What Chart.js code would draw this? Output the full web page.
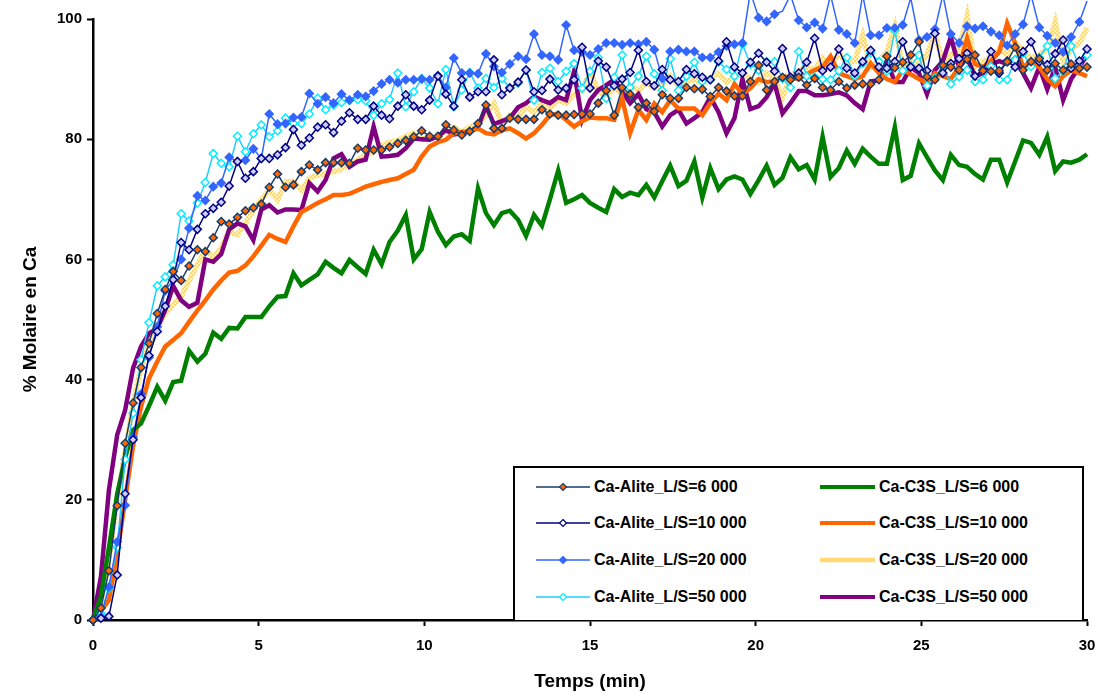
<!DOCTYPE html>
<html>
<head>
<meta charset="utf-8">
<title>% Molaire en Ca</title>
<script src="https://cdn.jsdelivr.net/npm/chart.js@4.4.1/dist/chart.umd.min.js"></script>
<style>
    body { margin: 0; background: #fff; }
    #wrap { position: relative; width: 1099px; height: 693px; }
    #legend {
        position: absolute; left: 513px; top: 466px;
        width: 567px; height: 152px;
        border: 2px solid #000; border-bottom: none;
        background: #fff;
        font: bold 16px "Liberation Sans", Arial, sans-serif;
        color: #000;
    }
    .item { position: absolute; display: flex; align-items: center; height: 20px; white-space: nowrap; }
    .item svg { margin-right: 4px; flex: none; }
</style>
</head>
<body>
<div id="wrap">
    <canvas id="chart" width="1099" height="693"></canvas>
    <div id="legend"></div>
</div>
<script>
// ============================================
// DATA
// ============================================

const temps = [
    0, 0.24, 0.48, 0.73, 0.97, 1.21, 1.45, 1.69, 1.94, 2.18,
    2.42, 2.66, 2.90, 3.15, 3.39, 3.63, 3.87, 4.11, 4.36, 4.60,
    4.84, 5.08, 5.32, 5.57, 5.81, 6.05, 6.29, 6.53, 6.78, 7.02,
    7.26, 7.50, 7.74, 7.99, 8.23, 8.47, 8.71, 8.95, 9.20, 9.44,
    9.68, 9.92, 10.16, 10.41, 10.65, 10.89, 11.13, 11.37, 11.62, 11.86,
    12.10, 12.34, 12.58, 12.83, 13.07, 13.31, 13.55, 13.79, 14.04, 14.28,
    14.52, 14.76, 15.00, 15.25, 15.49, 15.73, 15.97, 16.21, 16.46, 16.70,
    16.94, 17.18, 17.42, 17.67, 17.91, 18.15, 18.39, 18.63, 18.88, 19.12,
    19.36, 19.60, 19.84, 20.09, 20.33, 20.57, 20.81, 21.05, 21.30, 21.54,
    21.78, 22.02, 22.26, 22.51, 22.75, 22.99, 23.23, 23.47, 23.72, 23.96,
    24.20, 24.44, 24.68, 24.93, 25.17, 25.41, 25.65, 25.89, 26.14, 26.38,
    26.62, 26.86, 27.10, 27.35, 27.59, 27.83, 28.07, 28.31, 28.56, 28.80,
    29.04, 29.28, 29.52, 29.77, 30.00
];

const alite6000 = [
    0, 2, 8.2, 19.0, 29.4, 36.1, 42.0, 46.0, 51.0, 55.0,
    58.0, 56.5, 58.9, 61.6, 61.3, 63.6, 66.3, 65.9, 67.0, 68.1,
    68.6, 69.2, 72.0, 74.2, 72.0, 72.4, 74.6, 75.7, 74.9, 76.1,
    76.1, 76.1, 76.0, 78.5, 78.2, 78.2, 78.2, 78.7, 79.3, 79.8,
    80.4, 81.4, 80.5, 80.5, 82.4, 81.5, 80.7, 81.3, 82.6, 85.7,
    81.8, 81.8, 83.5, 83.3, 83.3, 83.3, 84.9, 84.2, 84.0, 84.0,
    84.1, 84.2, 84.2, 86.0, 88.1, 84.0, 88.6, 87.5, 85.3, 86.0,
    84.6, 87.4, 86.8, 86.8, 88.6, 88.4, 88.3, 87.1, 88.6, 88.0,
    87.2, 87.2, 89.6, 92.3, 88.2, 89.6, 90.3, 89.9, 90.3, 89.0,
    90.1, 88.6, 88.2, 89.6, 88.5, 89.0, 89.2, 89.2, 89.9, 93.8,
    91.9, 92.8, 94.0, 96.2, 90.4, 89.9, 92.3, 92.0, 91.5, 93.3,
    94.0, 91.4, 91.3, 91.4, 92.9, 95.3, 91.5, 92.9, 93.4, 91.5,
    92.6, 91.5, 92.5, 91.8, 92.0
];

const alite10000 = [
    0, 0.3, 0.6, 7.5, 21.0, 30.0, 37.0, 44.0, 48.0, 52.2,
    56.6, 62.8, 61.6, 65.0, 67.6, 68.5, 69.5, 72.2, 76.3, 73.5,
    74.6, 76.8, 76.8, 77.4, 78.6, 81.6, 79.0, 80.2, 82.0, 82.4,
    81.1, 83.0, 84.4, 83.3, 83.3, 85.5, 84.0, 83.4, 85.5, 87.4,
    85.5, 84.9, 86.5, 90.5, 87.5, 85.5, 89.9, 87.0, 87.9, 87.9,
    93.2, 87.4, 88.5, 89.5, 91.5, 87.9, 88.1, 90.0, 88.2, 88.5,
    89.9, 95.3, 88.5, 93.0, 92.0, 88.9, 90.0, 91.1, 94.8, 89.6,
    88.9, 91.6, 89.9, 89.6, 91.6, 90.9, 90.3, 89.9, 93.0, 96.2,
    92.0, 91.0, 92.8, 94.3, 92.8, 91.3, 95.1, 90.3, 91.0, 92.8,
    96.8, 91.4, 92.0, 95.0, 91.8, 91.0, 92.9, 94.8, 92.0, 91.8,
    92.9, 96.2, 92.0, 91.8, 91.4, 97.6, 91.0, 92.6, 93.4, 94.3,
    90.5, 91.5, 94.6, 91.0, 93.0, 92.0, 94.6, 96.2, 92.9, 92.4,
    94.2, 96.5, 91.8, 93.0, 95.0
];

const alite20000 = [
    0, 0.5, 5.5, 13.0, 19.1, 30.4, 37.6, 43.7, 48.8, 54.8,
    56.6, 60.0, 65.2, 70.6, 69.8, 72.1, 72.7, 77.0, 76.3, 76.5,
    78.4, 76.8, 84.2, 82.5, 82.6, 83.6, 83.7, 87.6, 85.9, 87.0,
    86.0, 87.5, 86.5, 87.4, 87.1, 88.0, 89.2, 89.9, 89.4, 89.9,
    89.9, 90.0, 89.9, 90.6, 88.6, 93.5, 91.0, 91.0, 90.9, 94.2,
    92.1, 91.1, 92.5, 93.8, 93.3, 97.5, 94.0, 93.8, 93.2, 99.0,
    94.8, 94.5, 94.0, 95.0, 96.0, 96.0, 95.7, 96.0, 95.8, 96.2,
    94.9, 90.1, 94.6, 94.9, 94.6, 94.6, 93.6, 93.6, 94.5, 95.5,
    95.8, 96.0, 104.5, 100.2, 99.6, 100.8, 101.3, 104.0, 99.8, 98.6,
    99.4, 98.4, 104.0, 98.2, 97.5, 96.0, 104.0, 97.3, 97.3, 98.5,
    98.5, 99.0, 103.5, 96.5, 97.0, 98.3, 104.0, 97.5, 96.0, 98.8,
    98.4, 98.8, 97.9, 97.3, 95.6, 97.5, 99.1, 104.0, 98.6, 97.2,
    96.0, 94.5, 97.0, 99.5, 103.0
];

const alite50000 = [
    0, 1.1, 5.3, 12.1, 26.7, 34.4, 43.3, 49.5, 55.6, 57.1,
    59.1, 67.6, 66.4, 69.4, 72.8, 77.6, 76.0, 75.4, 80.5, 77.9,
    80.9, 82.4, 80.4, 81.4, 83.5, 82.6, 82.6, 84.2, 86.8, 84.9,
    85.7, 86.1, 86.5, 86.6, 86.4, 84.0, 85.9, 86.6, 91.0, 85.4,
    87.9, 90.1, 88.5, 85.9, 91.6, 85.4, 88.2, 91.1, 88.5, 90.1,
    88.6, 90.1, 88.6, 89.3, 91.5, 86.5, 91.1, 91.8, 89.6, 91.3,
    92.6, 88.5, 91.3, 93.6, 86.8, 90.3, 94.0, 88.6, 90.5, 93.8,
    90.9, 88.1, 93.4, 88.1, 90.5, 92.8, 89.6, 89.9, 92.9, 91.6,
    90.5, 95.8, 92.5, 91.5, 92.9, 92.9, 90.1, 88.6, 94.6, 90.5,
    90.3, 90.0, 89.9, 91.4, 93.6, 90.5, 92.6, 94.4, 92.9, 91.3,
    98.1, 91.4, 92.2, 94.0, 88.9, 90.1, 92.2, 89.2, 90.4, 91.5,
    89.6, 89.9, 92.1, 89.9, 89.9, 93.2, 94.3, 92.1, 93.6, 95.5,
    90.1, 91.4, 95.5, 92.0, 94.0
];

const c3s6000 = [
    0, 4, 12, 21, 27, 31.6, 32.7, 35.6, 38.8, 36.5,
    39.6, 39.8, 44.8, 43.0, 44.3, 47.8, 46.8, 48.6, 48.5, 50.4,
    50.4, 50.4, 52.2, 53.8, 53.9, 57.7, 55.7, 56.6, 57.5, 59.6,
    58.6, 57.7, 59.9, 58.7, 57.6, 61.6, 59.2, 62.9, 64.8, 67.4,
    60.0, 61.7, 67.9, 64.6, 62.4, 63.8, 64.2, 63.1, 71.8, 67.7,
    65.7, 67.7, 68.1, 66.6, 63.9, 67.4, 65.6, 70.0, 74.8, 69.4,
    70.0, 70.7, 69.4, 68.6, 67.9, 71.7, 70.4, 71.1, 70.7, 72.4,
    70.3, 73.0, 75.6, 72.2, 73.1, 76.3, 70.3, 75.2, 71.7, 73.3,
    73.8, 73.3, 70.9, 73.2, 75.6, 72.4, 73.6, 77.0, 75.0, 75.7,
    73.3, 80.4, 73.7, 75.2, 78.1, 75.9, 78.4, 77.1, 75.9, 75.9,
    82.0, 73.2, 73.9, 79.3, 77.0, 74.8, 73.2, 77.4, 75.7, 75.4,
    74.2, 73.3, 76.6, 76.6, 72.8, 76.3, 79.8, 79.4, 77.4, 80.4,
    74.7, 76.3, 76.1, 76.6, 77.5
];

const c3s10000 = [
    0, 1.5, 3.3, 11.0, 20.0, 29.0, 35.5, 40.2, 43.0, 45.5,
    46.6, 47.7, 49.6, 51.5, 53.2, 55.0, 56.5, 57.8, 58.1, 59.0,
    60.5, 62.3, 64.1, 63.4, 62.9, 65.5, 67.9, 68.6, 69.4, 70.0,
    70.7, 70.7, 70.9, 71.5, 72.1, 72.5, 72.9, 73.2, 73.5, 74.2,
    74.9, 77.1, 78.8, 79.5, 79.9, 81.0, 81.2, 81.3, 81.8, 81.0,
    80.8, 81.5, 81.8, 81.0, 80.1, 81.0, 82.4, 84.0, 84.3, 83.2,
    82.1, 83.0, 83.6, 83.5, 83.5, 83.2, 86.8, 81.0, 84.9, 83.2,
    85.9, 84.5, 86.5, 85.1, 85.1, 85.1, 84.0, 86.0, 87.6, 86.5,
    89.2, 87.5, 88.5, 90.0, 89.5, 89.6, 90.5, 90.3, 90.0, 90.8,
    91.5, 92.0, 93.8, 91.0, 90.5, 90.0, 90.5, 92.6, 91.0, 90.0,
    89.5, 91.5, 90.8, 90.0, 89.3, 91.0, 90.5, 90.0, 92.0, 96.8,
    92.5, 92.0, 93.0, 94.5, 99.3, 96.0, 92.0, 93.0, 92.0, 90.0,
    88.8, 90.5, 91.5, 91.0, 90.5
];

const c3s20000 = [
    0, 3, 10, 20, 28, 36, 42, 46, 49, 51,
    52.4, 53.8, 56.5, 59.1, 61.5, 60.4, 62.0, 64.6, 64.1, 66.0,
    68.2, 70.0, 71.5, 69.9, 72.9, 73.0, 71.5, 73.5, 74.0, 74.3,
    74.6, 75.0, 76.0, 76.5, 77.5, 77.8, 79.0, 79.5, 79.8, 80.5,
    81.0, 80.0, 80.3, 80.4, 81.5, 82.0, 81.2, 82.0, 82.5, 84.0,
    86.0, 82.5, 84.0, 83.5, 85.5, 84.5, 86.0, 85.0, 86.5, 86.0,
    87.5, 88.0, 91.3, 88.0, 87.0, 88.5, 87.5, 89.0, 88.0, 89.5,
    88.5, 89.0, 90.5, 89.0, 89.5, 90.0, 89.2, 90.0, 91.0, 89.5,
    90.5, 91.0, 90.0, 89.5, 91.0, 90.0, 87.0, 90.5, 91.5, 92.0,
    91.5, 93.5, 92.0, 94.5, 92.5, 93.0, 97.3, 92.0, 93.0, 94.5,
    98.8, 92.0, 93.0, 92.5, 94.0, 97.6, 92.5, 94.0, 95.0, 100.5,
    92.0, 93.0, 93.5, 95.0, 94.0, 96.0, 95.0, 93.5, 94.0, 95.0,
    99.5, 93.0, 95.0, 96.0, 98.5
];

const c3s50000 = [
    0, 7.2, 21.6, 30.8, 34.9, 41.9, 45.5, 47.7, 48.5, 51.6,
    55.6, 53.2, 52.1, 52.8, 60.0, 59.6, 60.9, 65.0, 66.0, 65.5,
    63.2, 68.3, 69.0, 67.8, 68.3, 68.3, 68.2, 72.7, 71.3, 73.2,
    76.8, 77.5, 75.4, 76.3, 76.6, 82.1, 77.1, 77.2, 77.4, 78.5,
    80.1, 80.0, 79.9, 80.5, 81.5, 80.8, 81.0, 81.3, 82.0, 85.5,
    82.5, 83.0, 83.5, 85.3, 86.0, 87.1, 86.5, 86.0, 87.0, 86.5,
    91.3, 83.2, 86.5, 88.2, 89.0, 89.9, 87.9, 86.0, 87.5, 85.0,
    84.5, 82.1, 84.0, 84.9, 82.6, 83.5, 84.5, 87.0, 84.5, 81.0,
    83.5, 90.0, 85.0, 85.5, 87.0, 89.3, 84.3, 86.0, 88.0, 88.0,
    87.3, 87.3, 87.5, 87.8, 87.3, 86.0, 85.0, 89.6, 89.8, 93.0,
    89.5, 89.5, 92.0, 91.0, 87.5, 91.5, 93.0, 97.0, 92.0, 93.5,
    90.5, 91.0, 92.5, 93.0, 92.5, 93.5, 91.0, 88.5, 92.0, 88.3,
    92.0, 86.5, 90.0, 92.0, 94.0
];

const xTickValues = [0, 5, 10, 15, 20, 25, 30];
const yTickValues = [0, 20, 40, 60, 80, 100];

const aliteLabels = ['Ca-Alite_L/S=6 000', 'Ca-Alite_L/S=10 000', 'Ca-Alite_L/S=20 000', 'Ca-Alite_L/S=50 000'];
const c3sLabels = ['Ca-C3S_L/S=6 000', 'Ca-C3S_L/S=10 000', 'Ca-C3S_L/S=20 000', 'Ca-C3S_L/S=50 000'];

// ============================================
// STYLES
// ============================================

const FONT = '"Liberation Sans", Arial, sans-serif';

function hatchPattern() {
    const c = document.createElement('canvas');
    c.width = 4; c.height = 4;
    const g = c.getContext('2d');
    g.fillStyle = '#FFDA70';
    g.fillRect(0, 0, 4, 4);
    g.fillStyle = '#FFF0B8';
    g.fillRect(0, 0, 2, 2);
    g.fillRect(2, 2, 2, 2);
    return g.createPattern(c, 'repeat');
}

function toPoints(values) {
    return temps.map((t, i) => ({ x: t, y: values[i] }));
}

function aliteSet(label, values, line, fill, border, order) {
    return {
        label: label,
        data: toPoints(values),
        borderColor: line,
        borderWidth: 1.5,
        pointStyle: 'rectRot',
        pointRadius: 4,
        pointBackgroundColor: fill,
        pointBorderColor: border,
        pointBorderWidth: 1.5,
        tension: 0,
        clip: false,
        order: order
    };
}

function c3sSet(label, values, color, width, order) {
    return {
        label: label,
        data: toPoints(values),
        borderColor: color,
        borderWidth: width,
        pointRadius: 0,
        tension: 0,
        borderJoinStyle: 'miter',
        clip: false,
        order: order
    };
}

const series = [
    aliteSet(aliteLabels[0], alite6000, '#1A3C6A', '#FF6600', '#1A3C6A', 1),
    aliteSet(aliteLabels[1], alite10000, '#000080', '#CCCCFF', '#000080', 2),
    aliteSet(aliteLabels[2], alite20000, '#3366FF', '#3366FF', '#3366FF', 3),
    aliteSet(aliteLabels[3], alite50000, '#22CCFF', '#FFFFFF', '#00F0FF', 4),
    c3sSet(c3sLabels[0], c3s6000, '#008000', 4.5, 5),
    c3sSet(c3sLabels[1], c3s10000, '#FF6600', 4.5, 6),
    c3sSet(c3sLabels[2], c3s20000, hatchPattern(), 5.5, 8),
    c3sSet(c3sLabels[3], c3s50000, '#800080', 4.5, 7)
];

// ============================================
// CHART
// ============================================

const tickFont = { family: FONT, size: 15, weight: 'bold' };
const titleFont = { family: FONT, size: 19, weight: 'bold' };

new Chart(document.getElementById('chart'), {
    type: 'line',
    data: { datasets: series },
    options: {
        responsive: false,
        animation: false,
        events: [],
        layout: { padding: { top: 19, right: 12, left: 0, bottom: 0 } },
        plugins: {
            legend: { display: false },
            tooltip: { enabled: false }
        },
        scales: {
            x: {
                type: 'linear',
                min: 0,
                max: 30,
                afterBuildTicks: (scale) => { scale.ticks = xTickValues.map(v => ({ value: v })); },
                afterFit: (scale) => {
                    scale.height = 73;
                    // the last tick label may stick out a little, like in the original
                    scale.paddingLeft = 0;
                    scale.paddingRight = 0;
                },
                grid: { drawOnChartArea: false, drawTicks: true, tickLength: 6, tickWidth: 2, tickColor: '#000' },
                border: { display: true, color: '#000', width: 2.5 },
                ticks: { color: '#000', font: tickFont, padding: 11, maxRotation: 0 },
                title: { display: true, text: 'Temps (min)', color: '#000', font: titleFont, padding: { top: 2, bottom: 0 } }
            },
            y: {
                min: 0,
                max: 100,
                afterBuildTicks: (scale) => { scale.ticks = yTickValues.map(v => ({ value: v })); },
                afterFit: (scale) => {
                    scale.width = 93;
                    scale.paddingTop = 0;
                    scale.paddingBottom = 0;
                },
                grid: { drawOnChartArea: false, drawTicks: true, tickLength: 6, tickWidth: 2, tickColor: '#000' },
                border: { display: true, color: '#000', width: 2.5 },
                ticks: { color: '#000', font: tickFont, padding: 5 },
                title: { display: true, text: '% Molaire en Ca', color: '#000', font: titleFont, padding: { top: 19, bottom: 0 } }
            }
        }
    }
});

// ============================================
// LEGEND (boxed, two columns, inside the plot)
// ============================================

function aliteSample(line, fill, border) {
    return `<svg width="54" height="12"><line x1="0" y1="6" x2="54" y2="6" stroke="${line}" stroke-width="1.5"/>` +
        `<polygon points="27,2.5 30.5,6 27,9.5 23.5,6" fill="${fill}" stroke="${border}" stroke-width="1.2"/></svg>`;
}

function c3sSample(color, width) {
    return `<svg width="55" height="12"><line x1="0" y1="6" x2="55" y2="6" stroke="${color}" stroke-width="${width}"/></svg>`;
}

const legendRowsTop = [9, 45, 82, 119];
const aliteSamples = [
    aliteSample('#1A3C6A', '#FF6600', '#1A3C6A'),
    aliteSample('#000080', '#FFFFFF', '#000080'),
    aliteSample('#3366FF', '#3366FF', '#3366FF'),
    aliteSample('#22CCFF', '#FFFFFF', '#00F0FF')
];
const c3sSamples = [
    c3sSample('#008000', 4),
    c3sSample('#FF6600', 4),
    c3sSample('#FFDA70', 4.5),
    c3sSample('#800080', 4)
];

const legend = document.getElementById('legend');
legendRowsTop.forEach((top, i) => {
    legend.insertAdjacentHTML('beforeend',
        `<div class="item" style="left:21px;top:${top}px">${aliteSamples[i]}<span>${aliteLabels[i]}</span></div>`);
    legend.insertAdjacentHTML('beforeend',
        `<div class="item" style="left:305px;top:${top}px">${c3sSamples[i]}<span>${c3sLabels[i]}</span></div>`);
});
</script>
</body>
</html>
